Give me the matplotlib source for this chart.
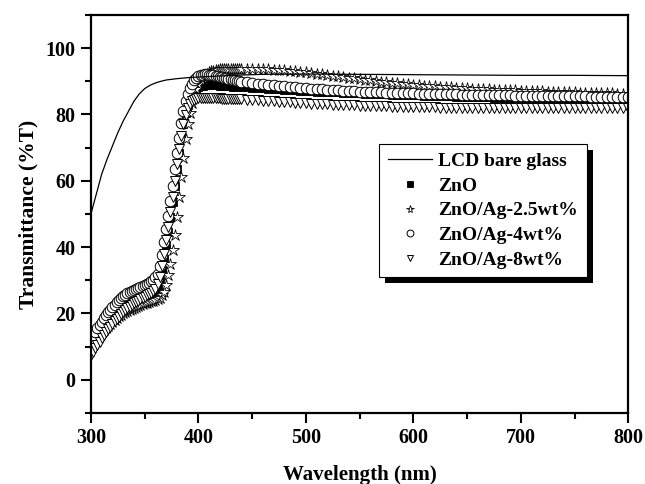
import numpy as np
import matplotlib
matplotlib.use('Agg')
import matplotlib.pyplot as plt
from matplotlib.patches import Rectangle
from matplotlib.ticker import MultipleLocator

# wavelength grid of the measured points (nm)
wl_uv = np.arange(300, 441, 2)
wl_vis = np.arange(445, 801, 5)

# LCD bare glass (line)
lcd_wl = [300, 305, 310, 315, 320, 325, 330, 335, 340, 345, 350, 355, 360, 365, 370,
          380, 390, 400, 420, 440, 460, 500, 550, 600, 650, 700, 750, 800]
lcd_t = [50.0, 56.0, 62.0, 66.5, 70.5, 74.5, 78.0, 81.0, 84.0, 86.2, 87.8, 88.8, 89.5, 90.0, 90.4,
         90.8, 91.1, 91.3, 91.6, 91.9, 92.1, 92.2, 92.1, 92.0, 91.9, 91.8, 91.8, 91.7]

# ZnO (filled squares)
zno_uv = [12.5, 13.3, 14.1, 14.9, 15.7, 16.4, 17.1, 17.8, 18.4, 19.0,
          19.6, 20.2, 20.7, 21.2, 21.7, 22.1, 22.5, 22.9, 23.3, 23.6,
          23.9, 24.2, 24.5, 24.8, 25.1, 25.4, 25.7, 26.0, 26.4, 26.8,
          27.3, 28.2, 30.0, 33.0, 36.5, 40.5, 44.5, 49.0, 53.5, 58.5,
          63.5, 68.5, 73.0, 77.0, 80.5, 83.0, 85.0, 86.3, 87.2, 87.8,
          88.2, 88.5, 88.7, 88.8, 88.9, 88.9, 88.9, 88.9, 88.8, 88.8,
          88.7, 88.7, 88.6, 88.6, 88.5, 88.5, 88.4, 88.4, 88.3, 88.3,
          88.3]
zno_vis = [88.2, 88.1, 88.0, 87.9, 87.8, 87.7, 87.6, 87.5,
           87.4, 87.3, 87.2, 87.1, 87.0, 86.9, 86.9, 86.8,
           86.7, 86.7, 86.6, 86.5, 86.5, 86.4, 86.3, 86.3,
           86.2, 86.1, 86.1, 86.0, 86.0, 85.9, 85.9, 85.8,
           85.8, 85.7, 85.7, 85.6, 85.6, 85.5, 85.5, 85.4,
           85.4, 85.3, 85.3, 85.3, 85.2, 85.2, 85.1, 85.1,
           85.1, 85.0, 85.0, 85.0, 84.9, 84.9, 84.9, 84.8,
           84.8, 84.8, 84.7, 84.7, 84.7, 84.7, 84.6, 84.6,
           84.6, 84.6, 84.5, 84.5, 84.5, 84.5, 84.4, 84.4]

# ZnO/Ag-2.5wt% (stars)
ag25_uv = [10.5, 11.3, 12.1, 12.9, 13.6, 14.3, 15.0, 15.7, 16.3, 16.9,
           17.5, 18.1, 18.6, 19.1, 19.6, 20.0, 20.4, 20.8, 21.1, 21.4,
           21.7, 22.0, 22.3, 22.5, 22.8, 23.0, 23.2, 23.4, 23.6, 23.8,
           24.0, 24.3, 24.7, 25.5, 26.5, 28.5, 31.5, 35.0, 39.0, 43.5,
           49.0, 55.0, 61.0, 67.0, 72.5, 77.0, 80.5, 83.5, 86.0, 87.8,
           89.2, 90.3, 91.1, 91.8, 92.3, 92.7, 93.0, 93.2, 93.4, 93.5,
           93.6, 93.7, 93.7, 93.8, 93.8, 93.8, 93.8, 93.8, 93.8, 93.8,
           93.8]
ag25_vis = [93.8, 93.8, 93.7, 93.7, 93.6, 93.5, 93.4, 93.3,
            93.2, 93.0, 92.9, 92.7, 92.5, 92.3, 92.1, 91.9,
            91.7, 91.5, 91.3, 91.1, 90.9, 90.7, 90.5, 90.3,
            90.1, 89.9, 89.7, 89.5, 89.4, 89.2, 89.1, 88.9,
            88.8, 88.7, 88.6, 88.5, 88.4, 88.3, 88.2, 88.1,
            88.0, 87.9, 87.8, 87.8, 87.7, 87.6, 87.5, 87.5,
            87.4, 87.3, 87.3, 87.2, 87.1, 87.1, 87.0, 87.0,
            86.9, 86.9, 86.8, 86.8, 86.7, 86.7, 86.6, 86.6,
            86.5, 86.5, 86.4, 86.4, 86.4, 86.3, 86.3, 86.3]

# ZnO/Ag-4wt% (circles)
ag4_uv = [12.5, 13.5, 14.5, 15.5, 16.5, 17.5, 18.5, 19.4, 20.3, 21.1,
          21.9, 22.6, 23.3, 24.0, 24.6, 25.1, 25.6, 26.0, 26.4, 26.8,
          27.1, 27.4, 27.7, 28.0, 28.3, 28.6, 28.9, 29.3, 29.7, 30.2,
          30.9, 32.0, 34.2, 37.5, 41.5, 45.5, 49.5, 54.0, 58.5, 63.5,
          68.5, 73.0, 77.5, 81.0, 84.0, 86.3, 88.0, 89.3, 90.3, 91.0,
          91.5, 91.8, 92.0, 92.1, 92.1, 92.0, 91.9, 91.8, 91.7, 91.5,
          91.4, 91.2, 91.1, 90.9, 90.8, 90.6, 90.5, 90.3, 90.2, 90.0,
          89.9]
ag4_vis = [89.7, 89.5, 89.3, 89.1, 88.9, 88.8, 88.6, 88.5,
           88.3, 88.2, 88.0, 87.9, 87.8, 87.7, 87.6, 87.5,
           87.4, 87.3, 87.2, 87.1, 87.0, 86.9, 86.9, 86.8,
           86.7, 86.7, 86.6, 86.6, 86.5, 86.5, 86.4, 86.4,
           86.3, 86.3, 86.3, 86.2, 86.2, 86.1, 86.1, 86.1,
           86.0, 86.0, 86.0, 85.9, 85.9, 85.9, 85.8, 85.8,
           85.8, 85.8, 85.7, 85.7, 85.7, 85.7, 85.6, 85.6,
           85.6, 85.6, 85.6, 85.5, 85.5, 85.5, 85.5, 85.5,
           85.4, 85.4, 85.4, 85.4, 85.4, 85.3, 85.3, 85.3]

# ZnO/Ag-8wt% (down triangles)
ag8_uv = [7.5, 8.5, 9.5, 10.5, 11.5, 12.5, 13.4, 14.3, 15.2, 16.0,
          16.8, 17.6, 18.3, 19.0, 19.7, 20.3, 20.9, 21.5, 22.0, 22.5,
          23.0, 23.4, 23.8, 24.2, 24.6, 25.0, 25.4, 25.8, 26.3, 26.8,
          27.5, 28.8, 31.0, 34.2, 38.0, 42.0, 46.0, 50.5, 55.0, 60.0,
          65.0, 69.5, 73.5, 77.0, 79.8, 81.8, 83.2, 84.0, 84.5, 84.8,
          85.0, 85.1, 85.1, 85.1, 85.1, 85.0, 85.0, 85.0, 84.9, 84.9,
          84.9, 84.8, 84.8, 84.8, 84.7, 84.7, 84.7, 84.6, 84.6, 84.6,
          84.6]
ag8_vis = [84.5, 84.4, 84.3, 84.2, 84.1, 84.0, 83.9, 83.8,
           83.7, 83.6, 83.5, 83.4, 83.3, 83.2, 83.2, 83.1,
           83.0, 83.0, 82.9, 82.8, 82.8, 82.7, 82.7, 82.6,
           82.6, 82.5, 82.5, 82.4, 82.4, 82.3, 82.3, 82.3,
           82.2, 82.2, 82.2, 82.2, 82.1, 82.1, 82.1, 82.1,
           82.0, 82.0, 82.0, 82.0, 82.0, 82.0, 81.9, 81.9,
           81.9, 81.9, 81.9, 81.9, 81.9, 81.9, 81.8, 81.8,
           81.8, 81.8, 81.8, 81.8, 81.8, 81.8, 81.8, 81.8,
           81.8, 81.8, 81.8, 81.8, 81.8, 81.8, 81.8, 81.8]

wl = np.concatenate([wl_uv, wl_vis])

plt.rcParams['font.family'] = ['Liberation Serif', 'DejaVu Serif']
plt.rcParams['font.weight'] = 'bold'

fig = plt.figure(figsize=(6.45, 4.84), dpi=100)
ax = fig.add_axes([0.141, 0.147, 0.833, 0.822])

ms = 7.6
ax.plot(lcd_wl, lcd_t, color='black', lw=0.9, label='LCD bare glass', zorder=3)
ax.plot(wl, zno_uv + zno_vis, ls='none', marker='s', ms=ms * 0.85, mfc='black', mec='black',
        mew=0.6, label='ZnO', zorder=2)
ax.plot(wl, ag25_uv + ag25_vis, ls='none', marker='*', ms=ms * 1.15, mfc='white', mec='black',
        mew=0.6, label='ZnO/Ag-2.5wt%', zorder=2)
ax.plot(wl, ag4_uv + ag4_vis, ls='none', marker='o', ms=ms, mfc='white', mec='black',
        mew=0.7, label='ZnO/Ag-4wt%', zorder=2)
ax.plot(wl, ag8_uv + ag8_vis, ls='none', marker='v', ms=ms, mfc='white', mec='black',
        mew=0.7, label='ZnO/Ag-8wt%', zorder=2)

ax.set_xlim(300, 800)
ax.set_ylim(-10, 110)
ax.xaxis.set_major_locator(MultipleLocator(100))
ax.xaxis.set_minor_locator(MultipleLocator(50))
ax.yaxis.set_major_locator(MultipleLocator(20))
ax.yaxis.set_minor_locator(MultipleLocator(10))
ax.tick_params(which='both', direction='out', width=1.5, top=False, right=False,
               labelsize=14.5, pad=4)
ax.tick_params(which='major', length=7)
ax.tick_params(which='minor', length=4.5)
for s in ax.spines.values():
    s.set_linewidth(1.6)

ax.set_xlabel('Wavelength (nm)', fontsize=15, fontweight='bold', labelpad=12)
ax.set_ylabel('Transmittance (%T)', fontsize=15.5, fontweight='bold', labelpad=5)

leg = ax.legend(loc='upper left', bbox_to_anchor=(0.536, 0.676), fontsize=14,
                frameon=True, fancybox=False, edgecolor='black', framealpha=1,
                handlelength=2.3, markerscale=0.65, borderpad=0.45, labelspacing=0.36,
                handletextpad=0.3, borderaxespad=0)
leg.get_frame().set_linewidth(0.8)
leg.set_zorder(10)

# solid black drop shadow behind the legend box
fig.canvas.draw()
bb = leg.get_window_extent().transformed(fig.transFigure.inverted())
dx, dy = 6 / 645, 6 / 484
shadow = Rectangle((bb.x0 + dx, bb.y0 - dy), bb.width, bb.height, transform=fig.transFigure,
                   facecolor='black', edgecolor='none', zorder=9)
ax.add_artist(shadow)

fig.savefig('out.png', dpi=100)
